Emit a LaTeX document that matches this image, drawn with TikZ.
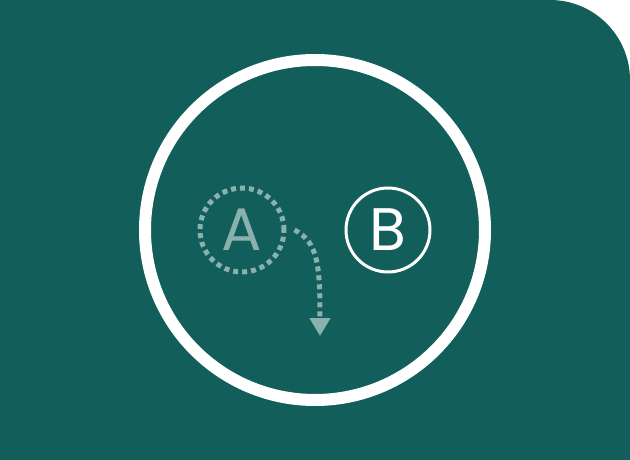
\documentclass[tikz,border=0pt]{standalone}
\usepackage{fontspec}
\setsansfont{Poppins}
\usetikzlibrary{arrows.meta}
\definecolor{bgteal}{HTML}{115E5A}
\definecolor{paleteal}{HTML}{8AB1AE}

\tikzset{
    ring/.style={circle, draw=white, line width=12pt, minimum size=340pt, inner sep=0pt},
    markA/.style={circle, draw=paleteal, text=paleteal, line width=5pt,
        dash pattern=on 5pt off 4pt, minimum size=84pt, inner sep=0pt,
        font=\sffamily\fontsize{60}{60}\selectfont},
    markB/.style={circle, draw=white, text=white, line width=3pt,
        minimum size=84pt, inner sep=0pt,
        font=\sffamily\fontsize{60}{60}\selectfont},
    flow/.style={draw=paleteal, line width=5pt, dash pattern=on 5pt off 4pt,
        -{Triangle[width=20pt,length=18pt]}}
}

\begin{document}
\begin{tikzpicture}[x=1pt,y=-1pt]
    \useasboundingbox (0,0) rectangle (630,460);
    % Background card
    \fill[white] (0,0) rectangle (630,460);
    \fill[bgteal] (0,0) -- (550,0) arc[start angle=-90, end angle=0, radius=80]
        -- (630,460) -- (0,460) -- cycle;

    % Circles
    \node[ring] (ring) at (315,230) {};
    \node[markA] (a) at (242,230) {A};
    \node[markB] (b) at (388,230) {B};

    % Move
    \coordinate (tip) at (320,336);
    \draw[flow] ([xshift=8pt]a.east) .. controls (318,242) and (320,265) .. (tip);
\end{tikzpicture}
\end{document}
